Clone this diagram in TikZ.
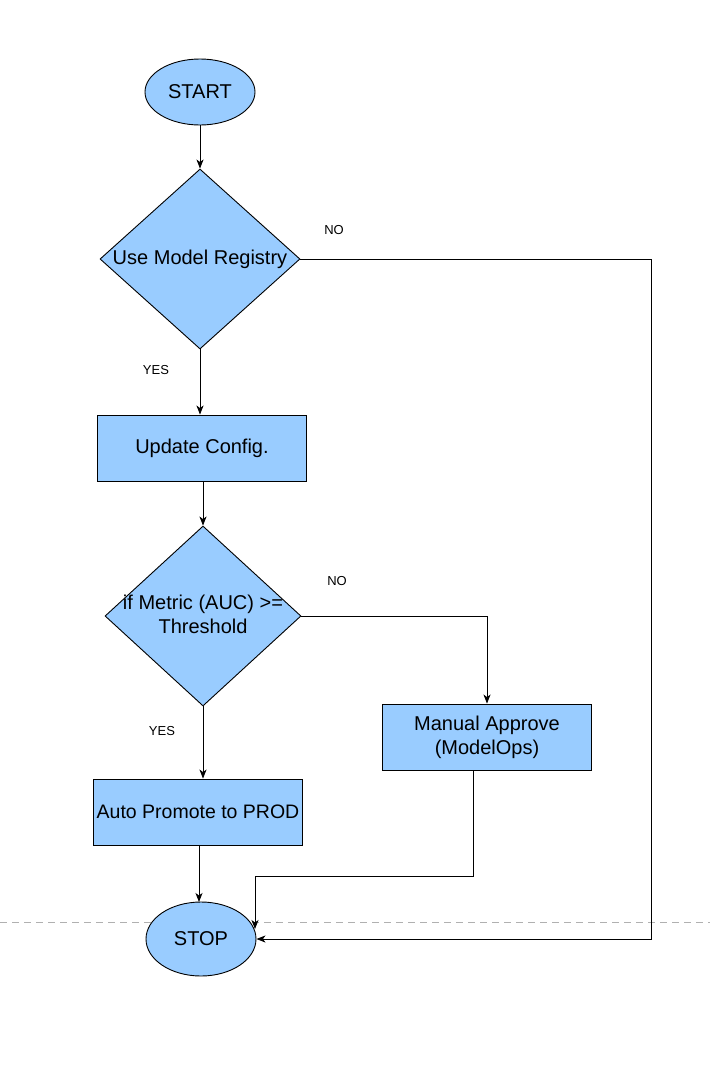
\documentclass[tikz,border=0pt]{standalone}
\usepackage{fontspec}
\setmainfont{Liberation Sans}
\usetikzlibrary{shapes.geometric,arrows.meta}
\definecolor{boxblue}{HTML}{99CCFF}
\definecolor{dashgray}{HTML}{B0B0B0}
\tikzset{
  flowline/.style={draw=black, line width=0.9pt},
  arr/.style={flowline, -{Stealth[length=9pt,width=7pt,inset=2.5pt]}},
  term/.style={ellipse, draw=black, line width=0.9pt, fill=boxblue, font=\fontsize{20}{24}\selectfont},
  procbox/.style={rectangle, draw=black, line width=0.9pt, fill=boxblue, minimum width=209pt, minimum height=66pt, inner sep=1pt, align=center, font=\fontsize{20}{24}\selectfont},
  decision/.style={diamond, draw=black, line width=0.9pt, fill=boxblue, inner sep=0pt, minimum width=200pt, minimum height=180pt},
  dtext/.style={align=center, font=\fontsize{20}{24}\selectfont},
  lbl/.style={font=\fontsize{13}{15}\selectfont}
}
\begin{document}
\begin{tikzpicture}[x=1pt,y=-1pt]
\useasboundingbox (0,0) rectangle (710,1066);
\fill[white] (0,0) rectangle (710,1066);
\draw[dashgray, line width=1pt, dash pattern=on 7pt off 5pt] (0,922) -- (710,922);

\node[term, minimum width=110pt, minimum height=66pt] (start) at (200,92) {START};
\node[decision] (d1) at (200,259) {};
\node[dtext] (d1t) at (200,259) {Use Model Registry};
\node[procbox] (upd) at (202,448) {Update Config.};
\node[decision, minimum width=196pt] (d2) at (203,616) {};
\node[dtext] (d2t) at (203,614) {if Metric (AUC) {>}=\\Threshold};
\node[procbox] (man) at (487,737) {Manual Approve\\(ModelOps)};
\node[procbox, font=\fontsize{19.5}{24}\selectfont] (auto) at (198,812) {Auto Promote to PROD};
\node[term, minimum width=110pt, minimum height=74pt] (stop) at (201,939) {STOP};

\node[lbl] (no1) at (334,230) {NO};
\node[lbl] (yes1) at (156,370) {YES};
\node[lbl] (no2) at (337,581) {NO};
\node[lbl] (yes2) at (162,731) {YES};

\coordinate (c1) at (651,259);
\coordinate (c2) at (651,939);
\coordinate (m1) at (473,770);
\coordinate (m2) at (473,876);
\coordinate (m3) at (255,876);
\coordinate (m4) at (255,929);

\draw[arr] (start) -- (d1);
\draw[arr] (d1.south) -- (d1.south |- upd.north);
\draw[arr] (upd.south -| d2.north) -- (d2.north);
\draw[arr] (d2.south) -- (d2.south |- auto.north);
\draw[arr] (auto.south -| 199,0) -- (199,902);
\draw[arr] (d2.east) -- (d2.east -| man.north) -- (man.north);
\draw[arr] (d1.east) -- (c1) -- (c2) -- (stop.east);
\draw[arr] (m1) -- (m2) -- (m3) -- (m4);
\end{tikzpicture}
\end{document}
